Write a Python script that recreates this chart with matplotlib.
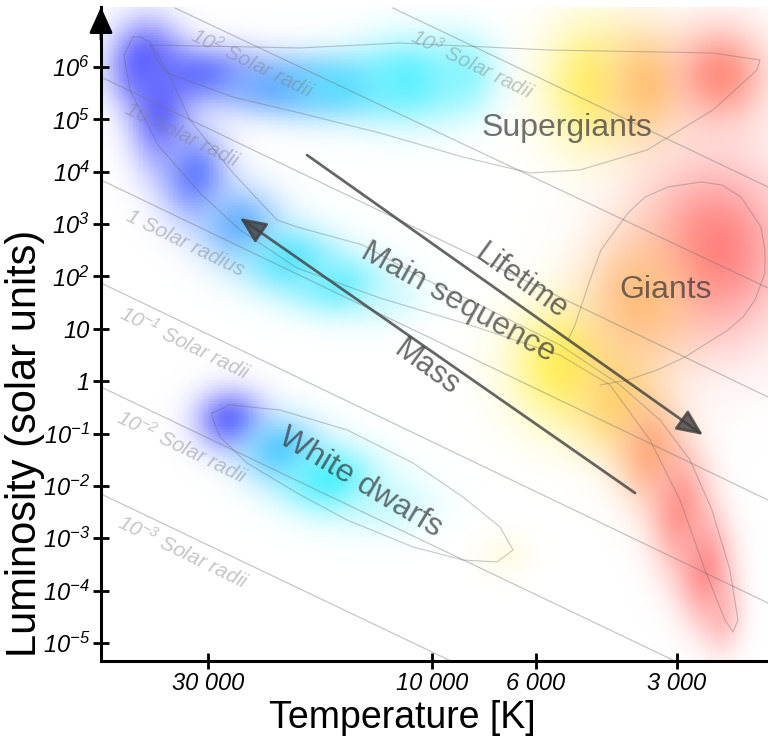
import numpy as np
import matplotlib.pyplot as plt
from matplotlib.colors import to_rgb
from matplotlib.ticker import NullLocator

plt.rcParams['font.family'] = ['Liberation Sans', 'DejaVu Sans']
plt.rcParams['mathtext.fontset'] = 'custom'
plt.rcParams['mathtext.it'] = 'Liberation Sans:italic'
plt.rcParams['mathtext.rm'] = 'Liberation Sans:italic'
plt.rcParams['mathtext.default'] = 'it'

# axis ranges (temperature in K, luminosity in solar units)
t_min, t_max = 1919, 50730
l_min, l_max = 10 ** -5.345, 10 ** 7.146

temp_ticks = [30000, 10000, 6000, 3000]
temp_labels = ['30 000', '10 000', '6 000', '3 000']
lum_ticks = [1e6, 1e5, 1e4, 1e3, 1e2, 10, 1, 1e-1, 1e-2, 1e-3, 1e-4, 1e-5]
lum_labels = [r'$10^{6}$', r'$10^{5}$', r'$10^{4}$', r'$10^{3}$', r'$10^{2}$', '10', '1',
              r'$10^{-1}$', r'$10^{-2}$', r'$10^{-3}$', r'$10^{-4}$', r'$10^{-5}$']

# lines of constant radius: two end points each
radius_T1 = [12100, 35280, 50730, 50730, 50730, 50730, 50730]
radius_L1 = [1.34e7, 1.34e7, 6.44e5, 6.95e3, 75.0, 0.773, 7.0e-3]
radius_T2 = [1919, 1919, 1919, 1919, 1919, 3030, 9100]
radius_L2 = [5110, 60.1, 0.498, 5.37e-3, 5.79e-5, 4.52e-6, 4.52e-6]

radius_names = [r'$10^{3}$ Solar radii', r'$10^{2}$ Solar radii', '10 Solar radii', '1 Solar radius',
                r'$10^{-1}$ Solar radii', r'$10^{-2}$ Solar radii', r'$10^{-3}$ Solar radii']
radius_label_T = [8210, 24170, 34080, 33590, 33590, 34080, 33920]
radius_label_L = [1.14e6, 1.19e6, 5.02e4, 436, 5.36, 0.0553, 5.46e-4]

# coloured regions (centre T, centre L, width in dex of T, width in dex of L, colour, strength)
blob_T = [40870, 31210, 21070, 15690, 11100, 8580, 4600, 3516, 2429,
          37970, 31980, 25640, 20060, 15690, 12280, 5200, 4068, 3425, 2956, 2615, 2406,
          2490, 3597,
          26930, 21070, 16480, 12280, 6979]
blob_L = [1.2e6, 7.03e5, 4.2e5, 4.2e5, 5.65e5, 7.03e5, 4.5e5, 4.5e5, 7.03e5,
          1.51e5, 8650, 961, 206, 68.7, 35.5, 2.04, 0.437, 0.0484, 3.46e-3, 2.47e-4, 3.42e-5,
          320, 35.5,
          0.181, 0.0484, 0.0129, 4.32e-3, 4.79e-4]
blob_wT = [0.05, 0.09, 0.09, 0.09, 0.08, 0.05, 0.07, 0.06, 0.07,
           0.045, 0.05, 0.06, 0.07, 0.07, 0.06, 0.08, 0.06, 0.05, 0.045, 0.04, 0.03,
           0.11, 0.08,
           0.05, 0.06, 0.07, 0.07, 0.04]
blob_wL = [0.55, 0.38, 0.38, 0.42, 0.55, 0.5, 0.85, 0.75, 0.65,
           0.75, 0.6, 0.5, 0.45, 0.4, 0.35, 0.8, 0.7, 0.7, 0.8, 0.7, 0.5,
           1.2, 0.9,
           0.4, 0.45, 0.45, 0.4, 0.3]
blob_color = ['#6060ff', '#6870ff', '#70a0ff', '#60d8ff', '#60f0ff', '#80f4ff', '#fff070', '#ffc878', '#ff9080',
              '#6468ff', '#6a80ff', '#70b0ff', '#60e4ff', '#70eeff', '#c0f8ff', '#fff058', '#ffd870',
              '#ffb080', '#ff9890', '#ff9090', '#ffa0a0',
              '#ff7f7f', '#ffbf80',
              '#6a6aff', '#60c8ff', '#50f0ff', '#b0f8ff', '#fff8d0']
blob_alpha = [1, 1, 1, 1, 1, 0.8, 1, 1, 1,
              1, 1, 1, 1, 1, 0.5, 1, 1, 1, 1, 1, 0.6,
              1, 1,
              1, 1, 1, 0.6, 0.5]

# outlines of the regions
ms_T = [43350, 45320, 44000, 38350, 31210, 25640, 19380, 12890, 8288, 5330, 4169, 3425, 2956, 2615,
        2371, 2279, 2224, 2313, 2527, 2814, 3261, 3969, 5330, 8288, 10590, 14020, 19380, 21380,
        26530, 32780, 36680, 39880, 41900, 43350]
ms_L = [3.74e6, 1.69e6, 3.64e5, 3.24e4, 3.93e3, 771, 145, 38.7, 11.8, 3.16, 0.845, 0.0751, 5.37e-3,
        2.47e-4, 2.74e-5, 1.62e-5, 2.74e-5, 2.47e-4, 3.46e-3, 0.0312, 0.181, 0.845, 4.91, 35.5, 97.6,
        398, 880, 1200, 9460, 9.72e4, 8.77e5, 3.0e6, 3.74e6, 3.74e6]
sg_T = [39880, 19100, 11690, 5597, 2515, 1996, 2026, 2515, 3475, 4830, 6173, 8580, 12890, 19100,
        26530, 36680, 37970, 39880]
sg_L = [2.63e6, 2.31e6, 2.87e6, 2.11e6, 1.85e6, 1.36e6, 8.77e5, 1.51e5, 2.6e4, 1.08e4, 9.46e3,
        1.91e4, 5.49e4, 1.32e5, 2.67e5, 7.68e5, 1.09e6, 2.63e6]
gi_T = [5123, 4950, 4599, 4358, 3816, 3510, 3135, 2667, 2406, 2191, 1987, 1948, 1948, 2046, 2170,
        2336, 2884, 3309, 3816, 4379]
gi_L = [6.11, 11.8, 85.5, 320, 1630, 3290, 5110, 6370, 5570, 3290, 880, 320, 116, 35.5, 16.8,
        9.49, 2.89, 1.63, 1.05, 0.845]
wd_T = [29420, 26930, 21070, 15160, 10960, 8580, 7153, 6711, 7260, 8580, 10960, 15160, 19380,
        24770, 28290, 29420, 29420]
wd_L = [0.246, 0.351, 0.281, 0.117, 0.0273, 6.13e-3, 1.64e-3, 5.96e-4, 3.52e-4, 3.84e-4, 6.8e-4,
        2.23e-3, 7.31e-3, 0.0273, 0.0858, 0.207, 0.246]

# region names
region_names = ['Supergiants', 'Giants', 'Main sequence', 'White dwarfs']
region_T = [5150, 3167, 8790, 14220]
region_L = [6.84e4, 55.1, 32.5, 0.0114]
region_rot = [0, 0, -29, -31]

# arrows (tail -> head)
arrow_names = ['Lifetime', 'Mass']
arrow_T1 = [18450, 3686]
arrow_L1 = [2.08e4, 7.31e-3]
arrow_T2 = [2641, 25640]
arrow_L2 = [0.0938, 1306]
arrow_label_T = [6450, 10240]
arrow_label_L = [78.3, 1.78]

fig = plt.figure(figsize=(7.68, 7.42), dpi=100)
ax = fig.add_axes([101 / 768, 81 / 742, 667 / 768, 654 / 742])
ax.set_xscale('log')
ax.set_yscale('log')
ax.set_xlim(t_max, t_min)
ax.set_ylim(l_min, l_max)

# blurred colour regions
gx = np.linspace(np.log10(t_min), np.log10(t_max), 401)
gy = np.linspace(np.log10(l_min), np.log10(l_max), 401)
cx = (gx[:-1] + gx[1:]) / 2
cy = (gy[:-1] + gy[1:]) / 2
LX, LY = np.meshgrid(cx, cy)
rgb = np.ones(LX.shape + (3,))
for T, L, wt, wl, c, a in zip(blob_T, blob_L, blob_wT, blob_wL, blob_color, blob_alpha):
    r2 = ((LX - np.log10(T)) / wt) ** 2 + ((LY - np.log10(L)) / wl) ** 2
    al = (a * np.exp(-0.5 * r2))[..., None]
    rgb = rgb * (1 - al) + np.array(to_rgb(c)) * al
ax.pcolormesh(10 ** gx, 10 ** gy, rgb, shading='flat', zorder=0, rasterized=True)

# radius lines
for T1, L1, T2, L2 in zip(radius_T1, radius_L1, radius_T2, radius_L2):
    ax.plot([T1, T2], [L1, L2], color='#707070', alpha=0.4, lw=0.9, zorder=2)
for name, T, L in zip(radius_names, radius_label_T, radius_label_L):
    ax.text(T, L, name, fontsize=15, style='italic', color='#808080', alpha=0.45,
            rotation=-26, rotation_mode='anchor', ha='center', va='center', zorder=2)

# outlines
for xs, ys in [(ms_T, ms_L), (sg_T, sg_L), (gi_T, gi_L), (wd_T, wd_L)]:
    ax.plot(xs, ys, color='#606060', alpha=0.35, lw=0.8, zorder=2)

# arrows
for T1, L1, T2, L2 in zip(arrow_T1, arrow_L1, arrow_T2, arrow_L2):
    ax.annotate('', xy=(T2, L2), xytext=(T1, L1),
                arrowprops=dict(arrowstyle='-|>,head_length=1.0,head_width=0.45', color='#404040',
                                lw=2, mutation_scale=16, shrinkA=0, shrinkB=0, alpha=0.8), zorder=3)
for name, T, L in zip(arrow_names, arrow_label_T, arrow_label_L):
    ax.text(T, L, name, fontsize=22, color='#333333', alpha=0.72, rotation=-36,
            rotation_mode='anchor', ha='center', va='center', zorder=3)

for name, T, L, rot in zip(region_names, region_T, region_L, region_rot):
    ax.text(T, L, name, fontsize=23, color='#333333', alpha=0.7, rotation=rot,
            rotation_mode='anchor', ha='center', va='center', zorder=3)

# axes style
for s in ['top', 'right']:
    ax.spines[s].set_visible(False)
for s in ['left', 'bottom']:
    ax.spines[s].set_linewidth(2.2)
    ax.spines[s].set_zorder(5)
ax.xaxis.set_minor_locator(NullLocator())
ax.yaxis.set_minor_locator(NullLocator())
ax.set_xticks(temp_ticks, temp_labels)
ax.set_yticks(lum_ticks, lum_labels)
ax.tick_params(direction='inout', length=12, width=2, labelsize=17, pad=2)
for lab in ax.get_xticklabels() + ax.get_yticklabels():
    lab.set_fontstyle('italic')

ax.annotate('', xy=(0, 1.0), xytext=(0, 0.95), xycoords='axes fraction',
            arrowprops=dict(arrowstyle='-|>,head_length=1.0,head_width=0.45', color='k',
                            lw=2, mutation_scale=16, shrinkA=0, shrinkB=0), annotation_clip=False)

ax.set_xlabel('Temperature [K]', fontsize=27)
ax.set_ylabel('Luminosity (solar units)', fontsize=30)
ax.xaxis.set_label_coords(0.451, -0.06)
ax.yaxis.set_label_coords(-0.084, 0.333)
ax.xaxis.label.set_va('top')

fig.savefig('out.png', dpi=100)
